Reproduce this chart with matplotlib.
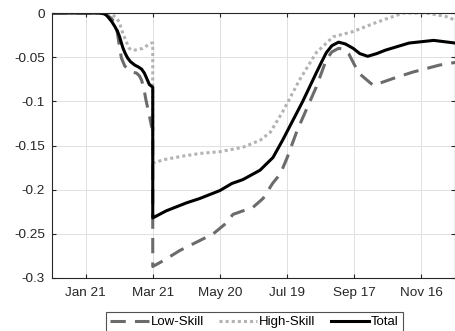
import matplotlib
matplotlib.use("Agg")
import matplotlib.pyplot as plt

plt.rcParams['font.family'] = ['Liberation Sans', 'DejaVu Sans']

# x in days since start of axis (Dec 22)
tick_days = [30, 90, 150, 210, 270, 330]
tick_labels = ["Jan 21", "Mar 21", "May 20", "Jul 19", "Sep 17", "Nov 16"]
ytick_vals = [0, -0.05, -0.1, -0.15, -0.2, -0.25, -0.3]
ytick_labels = ["0", "-0.05", "-0.1", "-0.15", "-0.2", "-0.25", "-0.3"]

total_x = [0, 20, 38, 42.5, 45, 47, 49, 51, 53.5, 56, 58.6, 60.4, 62, 63.5, 65.5,
           67.6, 70, 74, 77, 80, 82.5, 84.6, 87, 90, 90,
           102, 120, 132, 150, 160.7, 170.5, 185.8, 197.4, 206, 210.5, 224, 236,
           241, 245, 250, 256, 262, 269, 275, 282, 290, 298, 319, 341, 360]
total_y = [0, 0, 0, -0.0002, -0.0005, -0.001, -0.003, -0.006, -0.010, -0.015,
           -0.021, -0.027, -0.034, -0.040, -0.046, -0.051, -0.055, -0.059, -0.061,
           -0.0635, -0.068, -0.074, -0.081, -0.084, -0.232,
           -0.224, -0.215, -0.210, -0.201, -0.193, -0.1886, -0.178, -0.1636,
           -0.144, -0.133, -0.100, -0.068,
           -0.055, -0.045, -0.037, -0.033, -0.035, -0.040, -0.046, -0.049, -0.046,
           -0.042, -0.034, -0.031, -0.034]

low_x = [0, 20, 38, 43, 47, 50, 53, 56, 58, 60, 62, 65, 69, 72, 75.5, 78, 80, 82,
         84, 86.5, 89, 90, 90,
         100, 114, 144, 156, 161.6, 179.5, 188.5, 197, 204, 210, 219, 236, 245,
         250, 256, 261, 265, 274, 287, 305, 322, 346, 360]
low_y = [0, 0, 0, -0.0002, -0.001, -0.003, -0.006, -0.011, -0.019, -0.036, -0.051,
         -0.060, -0.065, -0.067, -0.068, -0.071, -0.076, -0.085, -0.099,
         -0.113, -0.129, -0.130, -0.287,
         -0.280, -0.269, -0.250, -0.2375, -0.228, -0.220, -0.210, -0.193, -0.182,
         -0.164, -0.133, -0.084, -0.053, -0.044, -0.040, -0.041, -0.046, -0.068,
         -0.082, -0.074, -0.067, -0.059, -0.056]

high_x = [0, 20, 40, 46, 50, 54, 57, 60, 63, 66.5, 69, 71.5, 74, 78, 81, 86, 89,
          90, 90,
          100, 117, 132, 150, 170.5, 186, 195, 206, 221, 236, 251, 269, 287, 300,
          314, 334, 352, 360]
high_y = [0, 0, 0, -0.0002, -0.0008, -0.002, -0.005, -0.010, -0.022, -0.033,
          -0.040, -0.042, -0.042, -0.041, -0.040, -0.036, -0.034, -0.034, -0.170,
          -0.166, -0.162, -0.159, -0.157, -0.152, -0.144, -0.135, -0.112, -0.076,
          -0.045, -0.027, -0.021, -0.012, -0.006, 0.0, 0.0, -0.004, -0.008]

fig = plt.figure(figsize=(4.56, 3.31), dpi=100)
ax = fig.add_axes([52/456, 53/331, 403/456, 265/331])

ax.plot(low_x, low_y, color='#6b6b6b', lw=2.2, linestyle=(0, (5, 3)),
        label='Low-Skill', dash_capstyle='butt')
ax.plot(high_x, high_y, color='#b3b3b3', lw=2.2, linestyle=(0, (1, 1)),
        label='High-Skill', dash_capstyle='butt')
ax.plot(total_x, total_y, color='black', lw=2.2, label='Total')

ax.set_xlim(0, 360)
ax.set_ylim(-0.3, 0)
ax.set_xticks(tick_days)
ax.set_xticklabels(tick_labels)
ax.set_yticks(ytick_vals)
ax.set_yticklabels(ytick_labels)
ax.grid(True, color='#e0e0e0', lw=0.7)
ax.set_axisbelow(True)
ax.tick_params(direction='in', top=True, right=True, labelsize=9.7, length=3,
               color='#262626', labelcolor='#262626', pad=5)
ax.tick_params(axis='x', pad=6.5)
for s in ax.spines.values():
    s.set_color('#262626')
    s.set_linewidth(0.8)

leg = fig.legend(loc='upper center', bbox_to_anchor=(254.5/456, 19/331), ncol=3,
                 fontsize=9.5, frameon=True, fancybox=False, edgecolor='#262626',
                 handlelength=2.9, handletextpad=0.15, columnspacing=1.15,
                 borderpad=0.3, borderaxespad=0)
leg.get_frame().set_linewidth(0.8)

fig.savefig('out.png', dpi=100)
